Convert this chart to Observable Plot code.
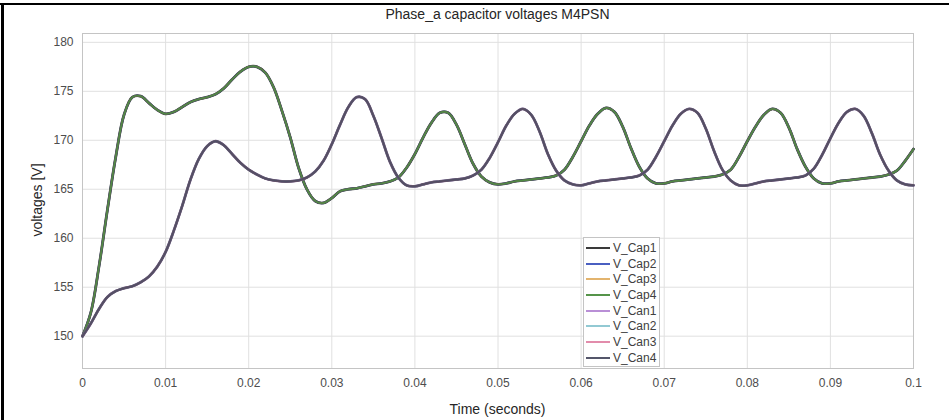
<!DOCTYPE html>
<html><head><meta charset="utf-8">
<script src="https://cdn.jsdelivr.net/npm/d3@7"></script>
<script src="https://cdn.jsdelivr.net/npm/@observablehq/plot@0.6"></script>
<style>
body{margin:0;background:#fff;}
#wrap{position:relative;width:949px;height:420px;overflow:hidden;font-family:"Liberation Sans",Arial,sans-serif;background:#fff;}
#title{position:absolute;top:6px;left:0;width:995px;text-align:center;font-size:14px;color:#262626;}
#ylab{position:absolute;left:37px;top:200px;transform:translate(-50%,-50%) rotate(-90deg);font-size:14px;color:#262626;white-space:nowrap;}
#xlab{position:absolute;top:401px;left:0;width:995px;text-align:center;font-size:14px;color:#262626;}
#bt{position:absolute;left:0;top:3px;width:949px;height:2px;background:#000}
#bl{position:absolute;left:1px;top:3px;width:3px;height:417px;background:#000}
#legend{position:absolute;left:583px;top:237px;width:77px;height:130px;border:1px solid #c4c4c4;background:#fff;box-sizing:border-box;padding-top:2px;}
.row{height:15.7px;display:flex;align-items:center;font-size:12px;color:#404040;}
.sw{width:24px;height:0;margin-left:2px;margin-right:3px;border-top:2px solid #000;}
svg{position:absolute;left:0;top:0;}
</style></head>
<body>
<div id="wrap">
</div>
<script>
// time samples (ms)
const timeMs = [0,1,2,3,4,5,6,7,8,9,10,11,12,13,14,15,16,17,18,19,20,21,22,23,24,25,26,27,28,29,30,31,32,33,34,35,36,37,38,39,40,41,42,43,44,45,46,47,48,49,50,51,52,53,54,55,56,57,58,59,60,61,62,63,64,65,66,67,68,69,70,71,72,73,74,75,76,77,78,79,80,81,82,83,84,85,86,87,88,89,90,91,92,93,94,95,96,97,98,99,100];
// upper-arm (Cap) capacitor voltage
const capV = [150,152.4,157.2,162.9,168.3,172.6,174.4,174.5,173.8,173.1,172.7,172.9,173.4,173.9,174.2,174.4,174.7,175.3,176.2,177.0,177.5,177.5,176.9,175.4,173.0,170.3,167.2,165.0,163.8,163.6,164.1,164.8,165.0,165.1,165.3,165.5,165.6,165.8,166.2,167.2,168.6,170.3,171.8,172.8,172.8,171.6,169.6,167.6,166.3,165.7,165.5,165.6,165.8,165.9,166.0,166.1,166.2,166.4,167.0,168.3,169.9,171.5,172.7,173.3,172.9,171.4,169.2,167.3,166.1,165.6,165.6,165.8,165.9,166.0,166.1,166.2,166.3,166.5,167.0,168.3,169.9,171.4,172.6,173.2,172.8,171.3,169.1,167.3,166.1,165.6,165.6,165.8,165.9,166.0,166.1,166.2,166.3,166.5,166.9,167.9,169.1];
// lower-arm (Can) capacitor voltage
const canV = [150,151.3,152.8,154.0,154.6,154.9,155.1,155.5,156.1,157.1,158.6,160.8,163.3,166.0,168.1,169.4,169.9,169.5,168.6,167.7,167.0,166.5,166.1,165.9,165.8,165.8,165.9,166.2,166.8,167.9,169.6,171.6,173.4,174.4,174.2,172.5,170.2,167.8,166.2,165.4,165.3,165.5,165.7,165.8,165.9,166.0,166.1,166.4,167.0,168.2,169.8,171.5,172.7,173.2,172.6,170.9,168.6,166.9,165.9,165.5,165.4,165.6,165.8,165.9,166.0,166.1,166.2,166.4,167.0,168.3,169.9,171.5,172.7,173.2,172.8,171.2,168.9,167.0,165.9,165.4,165.4,165.6,165.8,165.9,166.0,166.1,166.2,166.4,167.1,168.5,170.2,171.8,172.9,173.2,172.5,170.7,168.5,166.9,165.9,165.5,165.4];

const seriesNames = ["V_Cap1","V_Cap2","V_Cap3","V_Cap4","V_Can1","V_Can2","V_Can3","V_Can4"];
const seriesGroup = ["cap","cap","cap","cap","can","can","can","can"];
const seriesColors = ["#3a3a3a","#4a5fc1","#e3b46e","#55944a","#b98fd6","#92c9d3","#e28cab","#54566a"];
const lineColors = ["#3a3a3a","#3d4f7a","#6a6a4a","#4f8a46","#7a5a8e","#5a6a7a","#6e5266","#514f66"];
const seriesWidths = [2.8,2.4,2.0,1.4,2.8,2.4,2.0,1.4];

const xTicks = [0,0.01,0.02,0.03,0.04,0.05,0.06,0.07,0.08,0.09,0.1];
const xTickLabels = ["0","0.01","0.02","0.03","0.04","0.05","0.06","0.07","0.08","0.09","0.1"];
const yTicks = [150,155,160,165,170,175,180];
const yTickLabels = ["150","155","160","165","170","175","180"];

const titleText = "Phase_a capacitor voltages M4PSN";
const xLabel = "Time (seconds)";
const yLabel = "voltages [V]";

const groupValues = {cap: capV, can: canV};
const lineMarks = seriesNames.map((name, i) => {
  const vals = groupValues[seriesGroup[i]];
  const rows = timeMs.map((ms, j) => ({t: ms / 1000, v: vals[j], s: name}));
  return Plot.line(rows, {x: "t", y: "v", stroke: lineColors[i], strokeWidth: seriesWidths[i], curve: "catmull-rom"});
});

const chart = Plot.plot({
  width: 949, height: 420,
  marginLeft: 82, marginRight: 36, marginTop: 33, marginBottom: 52,
  style: {fontFamily: "'Liberation Sans', Arial, sans-serif", fontSize: "12px", color: "#4d4d4d", background: "transparent"},
  x: {domain: [0, 0.1], ticks: xTicks, tickFormat: d => xTickLabels[xTicks.indexOf(d)] ?? "", label: null},
  y: {domain: [146.7, 180.9], ticks: yTicks, tickFormat: d => yTickLabels[yTicks.indexOf(d)] ?? "", label: null},
  marks: [
    Plot.gridX(xTicks, {stroke: "#e0e0e0", strokeOpacity: 1}),
    Plot.gridY(yTicks, {stroke: "#e0e0e0", strokeOpacity: 1}),
    Plot.frame({stroke: "#c4c4c4"}),
    Plot.axisX(xTicks, {tickSize: 0, tickPadding: 10, tickFormat: d => xTickLabels[xTicks.indexOf(d)], label: null}),
    Plot.axisY(yTicks, {tickSize: 0, tickPadding: 9, tickFormat: d => yTickLabels[yTicks.indexOf(d)], label: null}),
    ...lineMarks
  ]
});

const wrap = document.getElementById("wrap");
wrap.appendChild(chart);
const mk = (id, txt) => { const d = document.createElement("div"); d.id = id; if (txt) d.textContent = txt; wrap.appendChild(d); return d; };
mk("title", titleText);
mk("ylab", yLabel);
mk("xlab", xLabel);
mk("bt"); mk("bl");
const lg = mk("legend");
seriesNames.forEach((n, i) => {
  const r = document.createElement("div"); r.className = "row";
  const sw = document.createElement("span"); sw.className = "sw"; sw.style.borderTopColor = seriesColors[i];
  const tx = document.createElement("span"); tx.textContent = n;
  r.appendChild(sw); r.appendChild(tx); lg.appendChild(r);
});
</script>
</body></html>
